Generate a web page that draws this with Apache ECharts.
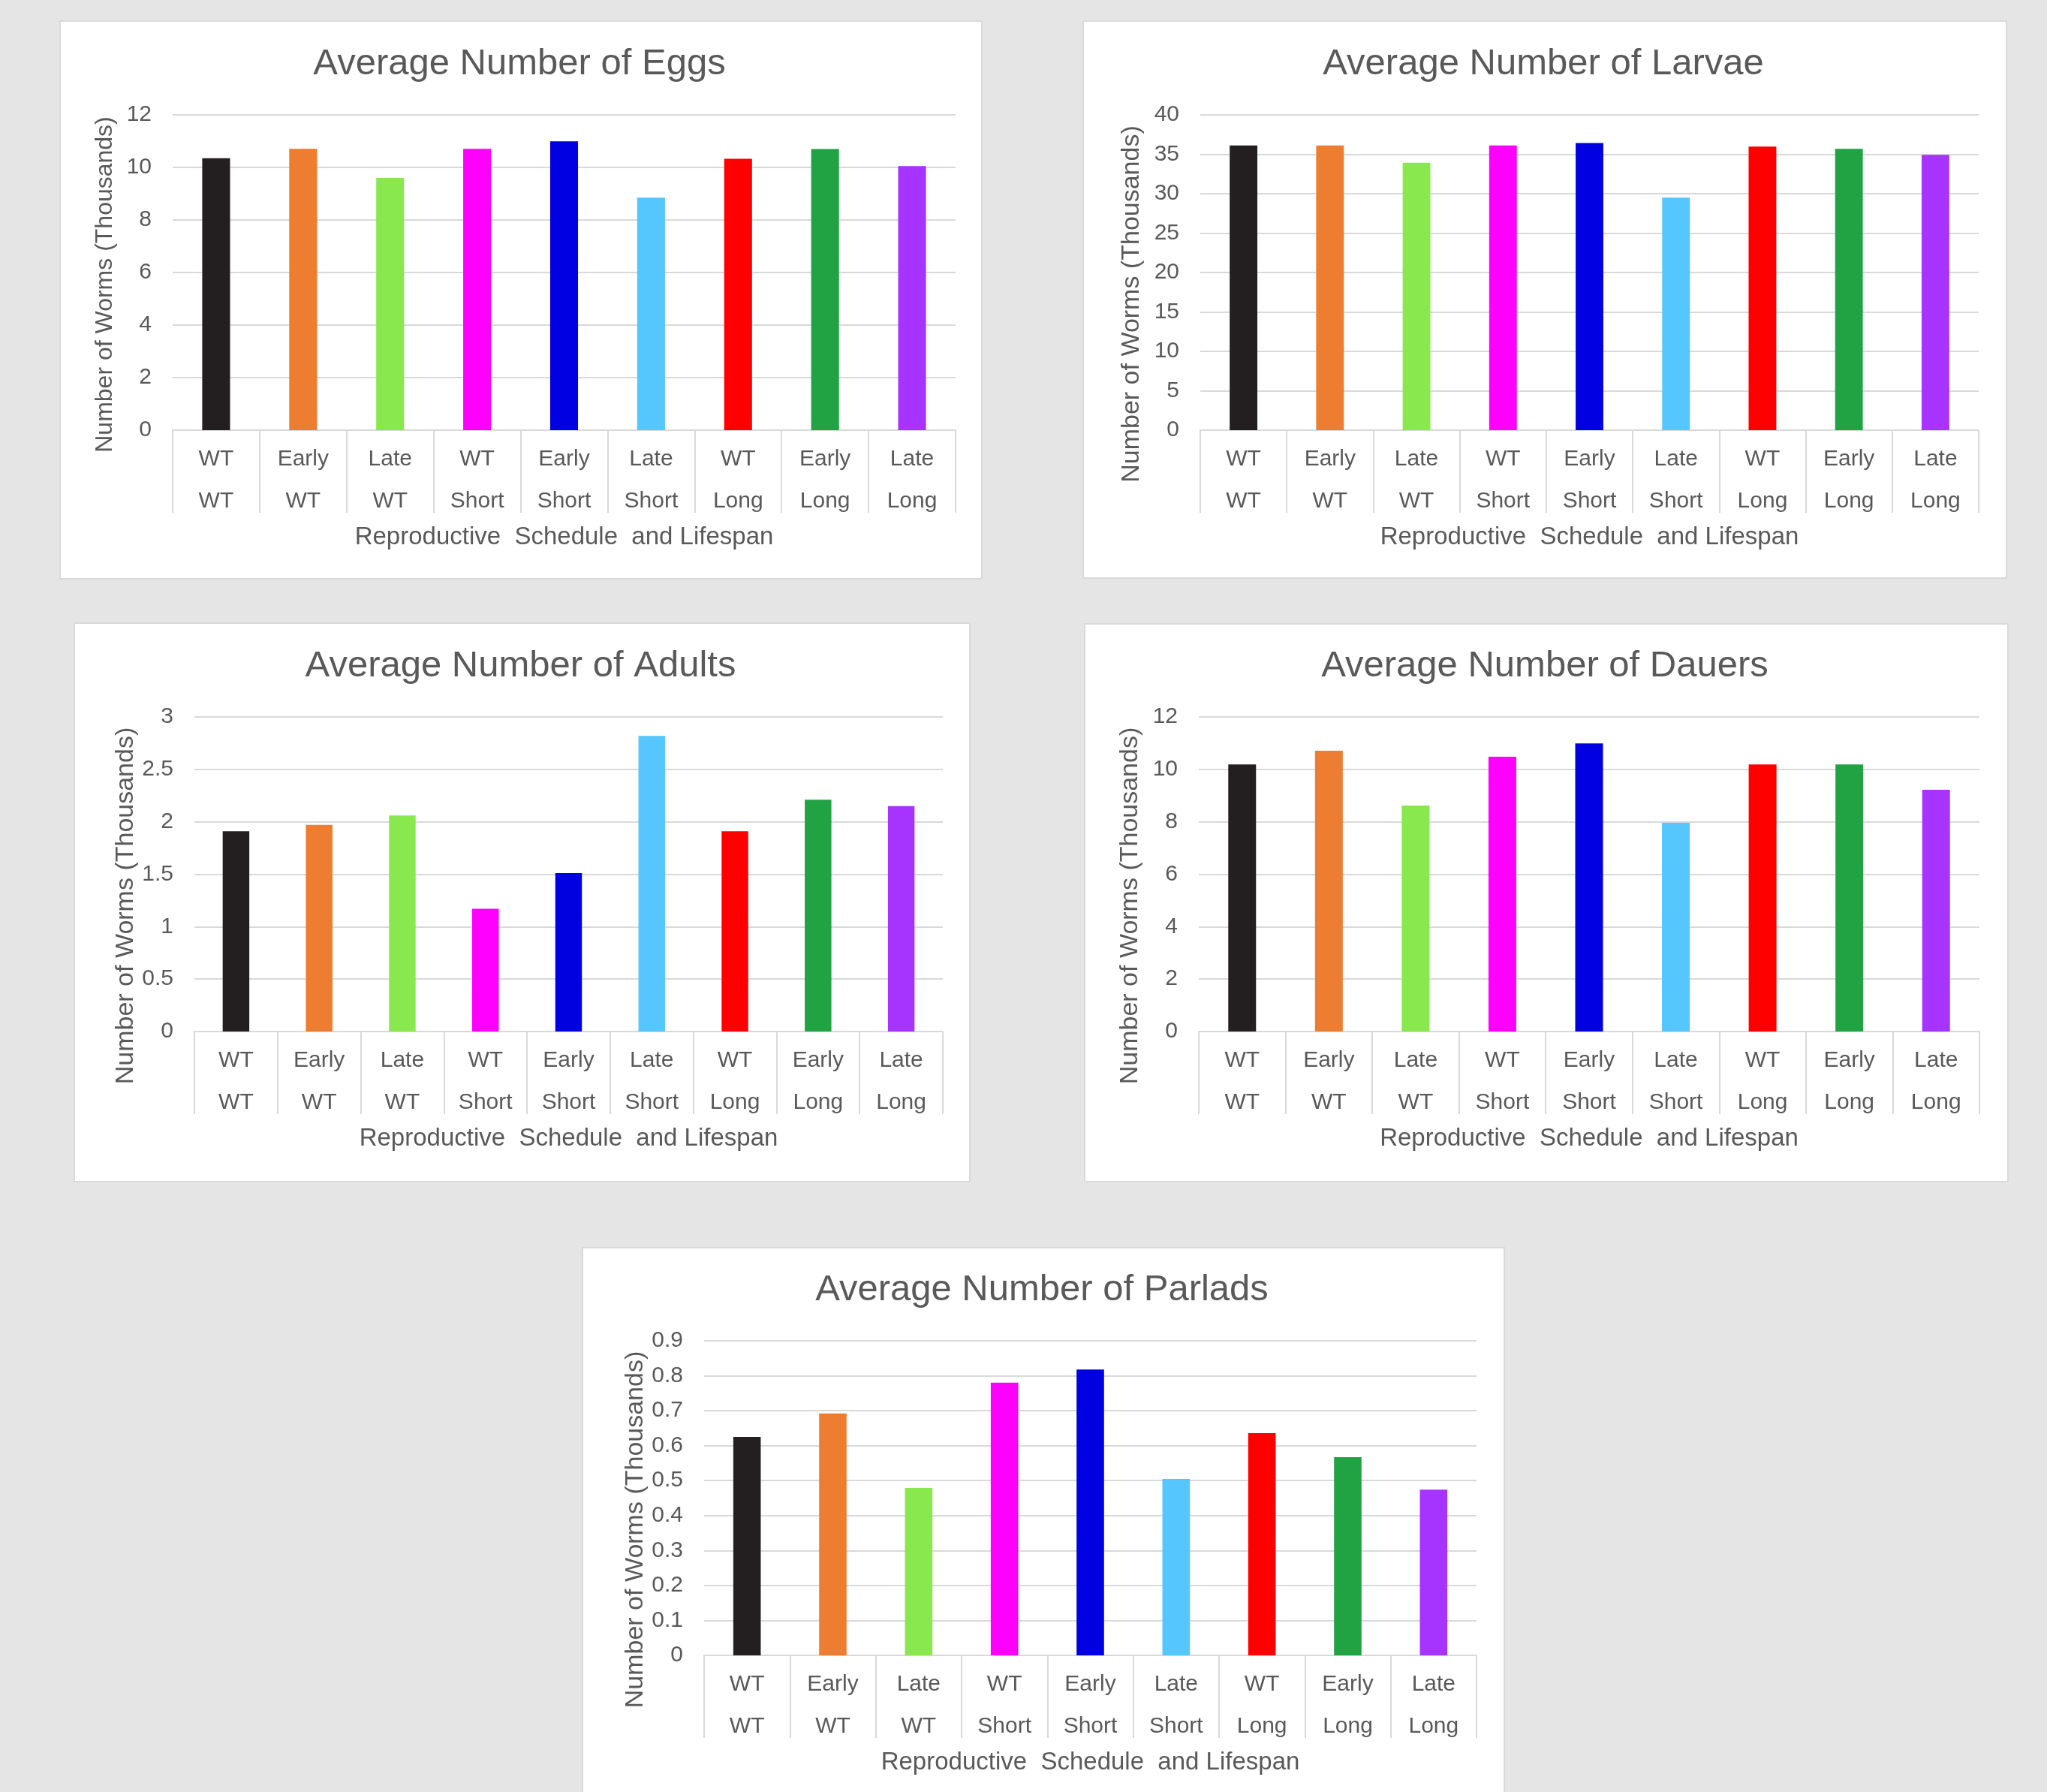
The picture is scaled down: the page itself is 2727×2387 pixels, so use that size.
<!DOCTYPE html>
<html>
<head>
<meta charset="utf-8">
<script src="https://cdn.jsdelivr.net/npm/echarts@6/dist/echarts.min.js"></script>
<style>
html, body { margin: 0; padding: 0; background: #e5e5e5; }
#main { width: 2727px; height: 2387px; }
</style>
</head>
<body>
<div id="main"></div>
<script>
// categories: reproductive schedule / lifespan
const categories = ['WT\nWT', 'Early\nWT', 'Late\nWT', 'WT\nShort', 'Early\nShort', 'Late\nShort', 'WT\nLong', 'Early\nLong', 'Late\nLong'];
const barColors = ['#231f20', '#ed7d31', '#88e84e', '#ff00ff', '#0000e0', '#55c6fe', '#ff0000', '#21a243', '#a733ff'];

// values (thousands of worms)
const eggs = [10.35, 10.71, 9.6, 10.71, 10.99, 8.85, 10.33, 10.7, 10.05];
const larvae = [36.13, 36.13, 33.93, 36.13, 36.43, 29.49, 35.97, 35.68, 34.92];
const adults = [1.91, 1.97, 2.06, 1.17, 1.51, 2.82, 1.91, 2.21, 2.15];
const dauers = [10.19, 10.71, 8.62, 10.48, 10.99, 7.96, 10.19, 10.19, 9.22];
const parlads = [0.625, 0.692, 0.479, 0.78, 0.818, 0.505, 0.636, 0.567, 0.474];

const titles = ['Average Number of Eggs', 'Average Number of Larvae', 'Average Number of Adults', 'Average Number of Dauers', 'Average Number of Parlads'];
const yMax = [12, 40, 3, 12, 0.9];
const yStep = [2, 5, 0.5, 2, 0.1];

const xName = 'Reproductive  Schedule  and Lifespan';
const yName = 'Number of Worms (Thousands)';

// panel boxes and plot areas
const panels = [
    { box: [80, 28, 1228, 743], grid: { left: 230, top: 153, width: 1043, height: 420 }, shift: 32, nameSize: 32 },
    { box: [1443, 28, 1230, 742], grid: { left: 1599, top: 153, width: 1037, height: 420 }, shift: 84, nameSize: 34 },
    { box: [99, 830, 1193, 744], grid: { left: 259, top: 955, width: 997, height: 419 }, shift: 84, nameSize: 34 },
    { box: [1445, 831, 1230, 743], grid: { left: 1597, top: 955, width: 1040, height: 419 }, shift: 84, nameSize: 34 },
    { box: [776, 1662, 1228, 740], grid: { left: 938, top: 1786, width: 1029, height: 419 }, shift: 84, nameSize: 34 }
];
const series = [eggs, larvae, adults, dauers, parlads];

const font = 'Liberation Sans, Arial, sans-serif';
const textColor = '#595959';
const lineColor = '#d9d9d9';

let chart = echarts.init(document.getElementById('main'));

let option = {
    backgroundColor: '#e5e5e5',
    textStyle: { fontFamily: font },
    title: [],
    grid: [],
    xAxis: [],
    yAxis: [],
    series: [],
    graphic: []
};

panels.forEach(function (p, i) {
    option.graphic.push({
        type: 'rect',
        z: -10,
        shape: { x: p.box[0], y: p.box[1], width: p.box[2], height: p.box[3] },
        style: { fill: '#ffffff', stroke: lineColor, lineWidth: 2 }
    });
    option.title.push({
        text: titles[i],
        left: p.box[0] + p.box[2] / 2 - 7,
        top: p.grid.top - 97,
        textAlign: 'center',
        textStyle: { fontFamily: font, fontSize: 49, fontWeight: 'normal', color: textColor }
    });
    option.grid.push(Object.assign({ containLabel: false }, p.grid));
    option.xAxis.push({
        type: 'category',
        gridIndex: i,
        data: categories,
        name: xName,
        nameLocation: 'middle',
        nameGap: 126,
        nameTextStyle: { fontFamily: font, fontSize: 33, color: textColor },
        axisLine: { lineStyle: { color: lineColor, width: 2 } },
        axisTick: { show: true, interval: 0, length: 110, lineStyle: { color: lineColor, width: 2 } },
        axisLabel: { interval: 0, margin: 11, fontFamily: font, fontSize: 30, lineHeight: 56, color: textColor }
    });
    option.yAxis.push({
        type: 'value',
        gridIndex: i,
        min: 0,
        max: yMax[i],
        interval: yStep[i],
        name: yName,
        nameLocation: 'middle',
        nameGap: 74,
        nameTextStyle: { fontFamily: font, fontSize: p.nameSize, color: textColor, padding: [0, p.shift, 0, 0] },
        axisLine: { show: false },
        axisTick: { show: false },
        axisLabel: { margin: 28, fontFamily: font, fontSize: 30, color: textColor },
        splitLine: { lineStyle: { color: lineColor, width: 2 } }
    });
    option.series.push({
        type: 'bar',
        xAxisIndex: i,
        yAxisIndex: i,
        barWidth: '32%',
        data: series[i].map(function (v, k) {
            return { value: v, itemStyle: { color: barColors[k] } };
        })
    });
});

chart.setOption(option);
</script>
</body>
</html>
